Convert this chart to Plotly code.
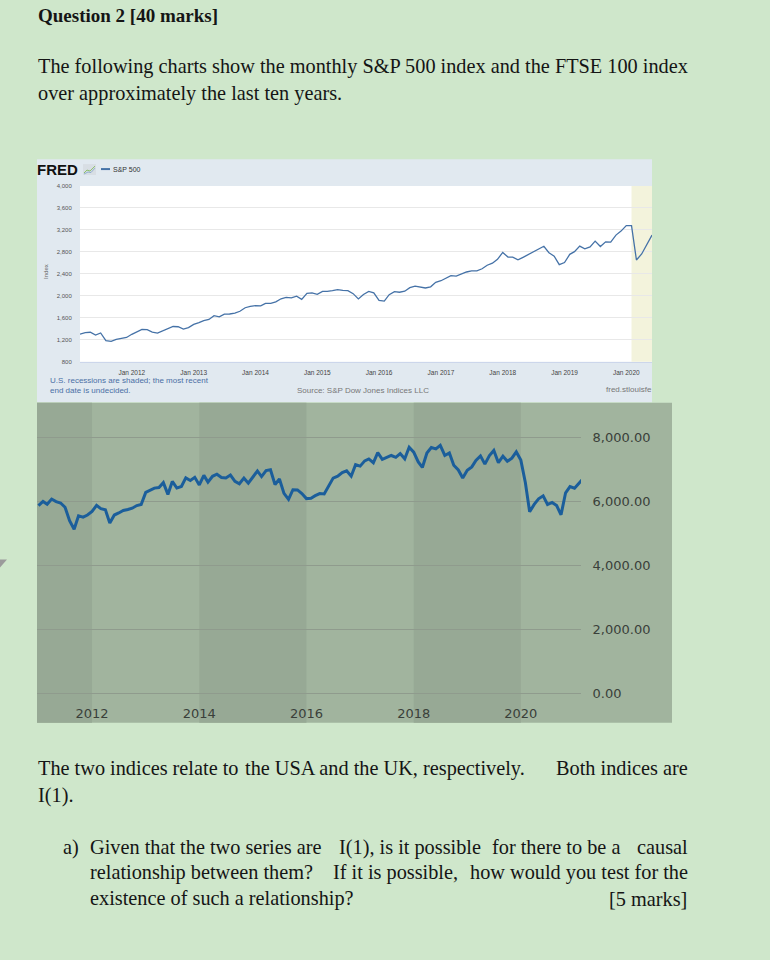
import plotly.graph_objects as go
import pandas as pd

W, H = 770, 960


def px(x):
    return x / W


def py(y):
    return 1 - y / H


# ---------------- data ----------------
# S&P 500, monthly (FRED), Mar 2011 - Jun 2020
sp500_start = "2011-03-01"
sp500 = [
    1304, 1332, 1338, 1287, 1325, 1185, 1174, 1207, 1226, 1243,
    1301, 1352, 1389, 1386, 1341, 1323, 1360, 1403, 1443, 1438, 1395, 1422,
    1480, 1512, 1551, 1571, 1640, 1619, 1669, 1670, 1687, 1720, 1784, 1808,
    1822, 1817, 1864, 1864, 1890, 1947, 1973, 1962, 1993, 1937, 2045, 2054,
    2028, 2082, 2080, 2095, 2112, 2099, 2094, 2040, 1944, 2025, 2081, 2054,
    1919, 1904, 2022, 2076, 2066, 2084, 2149, 2177, 2158, 2143, 2165, 2247,
    2275, 2330, 2367, 2359, 2395, 2434, 2454, 2456, 2493, 2557, 2594, 2664,
    2790, 2705, 2703, 2654, 2701, 2754, 2794, 2858, 2902, 2785, 2723, 2567,
    2607, 2755, 2804, 2904, 2855, 2890, 2996, 2897, 2982, 2978, 3105, 3177,
    3278, 3277, 2652, 2762, 2920, 3105,
]

# FTSE 100, monthly, Jan 2011 - Mar 2021
ftse_start = "2011-01-01"
ftse100 = [
    5863, 5994, 5909, 6070, 5990, 5946, 5815, 5395, 5128, 5544, 5505, 5572,
    5682, 5872, 5768, 5738, 5321, 5571, 5635, 5711, 5742, 5783, 5867, 5898,
    6277, 6361, 6412, 6430, 6583, 6215, 6621, 6413, 6462, 6731, 6651, 6749,
    6510, 6810, 6598, 6780, 6845, 6744, 6730, 6820, 6623, 6546, 6723, 6566,
    6749, 6947, 6773, 6961, 6984, 6521, 6696, 6248, 6062, 6361, 6356, 6242,
    6084, 6097, 6175, 6242, 6231, 6504, 6724, 6782, 6899, 6954, 6784, 7143,
    7099, 7263, 7323, 7204, 7520, 7313, 7372, 7431, 7373, 7493, 7327, 7688,
    7534, 7232, 7057, 7509, 7678, 7637, 7749, 7432, 7510, 7128, 6980, 6728,
    6969, 7075, 7279, 7418, 7162, 7426, 7587, 7207, 7408, 7248, 7347, 7542,
    7286, 6581, 5672, 5901, 6077, 6170, 5898, 5964, 5866, 5577, 6266, 6461,
    6407, 6560, 6714,
]

fred_yticks = [800, 1200, 1600, 2000, 2400, 2800, 3200, 3600, 4000]
fred_xtick_years = [2012, 2013, 2014, 2015, 2016, 2017, 2018, 2019, 2020]
ftse_yticks = [0, 2000, 4000, 6000, 8000]
ftse_xtick_years = [2012, 2014, 2016, 2018, 2020]
recession = ("2020-02-01", "2020-06-01")
ftse_dark_bands = [(2010, 2012), (2014, 2016), (2018, 2020)]

sp_dates = pd.date_range(sp500_start, periods=len(sp500), freq="MS")
ftse_dates = pd.date_range(ftse_start, periods=len(ftse100), freq="MS")

# ---------------- styles ----------------
PAGE = "#cfe7cb"
FRED_BOX = "#e1e9f0"
FRED_LINE = "#4572a7"
FTSE_LIGHT = "#a1b49e"
FTSE_DARK = "#97a995"
FTSE_GRID = "#8f9b8d"
FTSE_LINE = "#1b5e9b"
SERIF = "Liberation Serif"
SANS = "Liberation Sans"
TXT = "#151515"
FS = 20.3

fig = go.Figure()

fig.add_trace(go.Scatter(
    x=sp_dates, y=sp500, mode="lines", xaxis="x", yaxis="y",
    line=dict(color=FRED_LINE, width=1.3), hoverinfo="skip"))

fig.add_trace(go.Scatter(
    x=ftse_dates, y=ftse100, mode="lines", xaxis="x2", yaxis="y2",
    line=dict(color=FTSE_LINE, width=3), hoverinfo="skip"))

shapes = [
    # FRED frame and plot area
    dict(type="rect", xref="paper", yref="paper", x0=px(37), x1=px(652),
         y0=py(404), y1=py(158), fillcolor=FRED_BOX, line_width=0, layer="below"),
    dict(type="rect", xref="paper", yref="paper", x0=px(80), x1=px(652),
         y0=py(363), y1=py(185), fillcolor="white", line_width=0, layer="below"),
    dict(type="rect", xref="x", yref="paper", x0=recession[0], x1=recession[1],
         y0=py(363), y1=py(185), fillcolor="#f3f3dc", line_width=0, layer="below"),
    # FRED icon
    dict(type="rect", xref="paper", yref="paper", x0=px(83), x1=px(96),
         y0=py(174), y1=py(163), fillcolor="#d8dee4", line_width=0, layer="above"),
    dict(type="path", xref="paper", yref="paper",
         path=f"M {px(84)},{py(172)} L {px(87)},{py(169)} L {px(90)},{py(170)} L {px(95)},{py(165)}",
         line=dict(color="#8bbf6a", width=1), layer="above"),
    dict(type="path", xref="paper", yref="paper",
         path=f"M {px(84)},{py(173)} L {px(88)},{py(171)} L {px(91)},{py(171.5)} L {px(95)},{py(167)}",
         line=dict(color="#7fa3c8", width=0.8), layer="above"),
    # legend line
    dict(type="line", xref="paper", yref="paper", x0=px(101), x1=px(110),
         y0=py(168), y1=py(168), line=dict(color=FRED_LINE, width=2)),
    # FTSE frame
    dict(type="rect", xref="paper", yref="paper", x0=px(37), x1=px(672),
         y0=py(728), y1=py(404.5), fillcolor=FTSE_LIGHT, line_width=0, layer="below"),
    # small page marker
    dict(type="path", xref="paper", yref="paper",
         path=f"M {px(0)},{py(563)} L {px(7)},{py(563)} L {px(0)},{py(571)} Z",
         fillcolor="#9b9b9b", line_width=0, layer="above"),
]
for a, b in ftse_dark_bands:
    shapes.append(dict(type="rect", xref="x2", yref="paper",
                       x0=f"{a}-01-01", x1=f"{b}-01-01",
                       y0=py(728), y1=py(404.5), fillcolor=FTSE_DARK,
                       line_width=0, layer="below"))

anns = []


def ann(text, x, y, size, color=TXT, family=SERIF, xanchor="left", textangle=0):
    anns.append(dict(text=text, x=px(x), y=py(y), xref="paper", yref="paper",
                     xanchor=xanchor, yanchor="middle", showarrow=False,
                     textangle=textangle, borderpad=0,
                     font=dict(size=size, color=color, family=family)))


# page text (justified lines are set in pieces)
ann("<b>Question 2 [40 marks]</b>", 37, 13, 19)
ann("The following charts show the monthly S&P 500 index and the FTSE 100 index", 37, 64, FS)
ann("over approximately the last ten years.", 37, 92, FS)
ann("The two indices relate to", 37, 774, FS)
ann("the USA and the UK, respectively.", 244, 774, FS)
ann("Both indices are", 689, 774, FS, xanchor="right")
ann("I(1).", 37, 802, FS)
ann("a)", 62, 854, FS)
ann("Given that the two series are", 89, 854, FS)
ann("I(1), is it possible", 338, 854, FS)
ann("for there to be a", 491, 854, FS)
ann("causal", 689, 854, FS, xanchor="right")
ann("relationship between them?", 89, 880, FS)
ann("If it is possible,", 332, 880, FS)
ann("how would you test for the", 689, 880, FS, xanchor="right")
ann("existence of such a relationship?", 89, 906, FS)
ann("[5 marks]", 688, 906, FS, xanchor="right")

# FRED texts
ann("<b>FRED</b>", 36, 168, 15, color="#111", family=SANS)
ann("S&P 500", 112, 168, 7, color="#333", family=SANS)
ann("Index", 42, 272, 6, color="#666", family=SANS, textangle=-90)
ann("U.S. recessions are shaded; the most recent", 49, 382, 8, color="#4a6fa5", family=SANS)
ann("end date is undecided.", 49, 392, 8, color="#4a6fa5", family=SANS)
ann("Source: S&P Dow Jones Indices LLC", 363, 392, 8, color="#777", family=SANS, xanchor="center")
ann("fred.stlouisfe", 653, 391, 8, color="#777", family=SANS, xanchor="right")

fig.update_layout(
    width=W, height=H, margin=dict(l=0, r=0, t=0, b=0),
    paper_bgcolor=PAGE, plot_bgcolor="rgba(0,0,0,0)",
    showlegend=False, shapes=shapes, annotations=anns,
    xaxis=dict(domain=[px(80), px(652)], anchor="y", type="date",
               range=["2011-03-01", "2020-06-01"],
               tickvals=[f"{y}-01-01" for y in fred_xtick_years],
               ticktext=[f"Jan {y}" for y in fred_xtick_years],
               showgrid=False, zeroline=False, showline=True,
               linecolor="#ccd6eb", linewidth=1,
               ticks="outside", ticklen=4, tickcolor="rgba(0,0,0,0)",
               tickfont=dict(size=6.5, color="#444", family=SANS)),
    yaxis=dict(domain=[py(363), py(185)], anchor="x", range=[800, 4000],
               tickvals=fred_yticks, tickformat=",d",
               showgrid=True, gridcolor="#e8e8e8", gridwidth=1, zeroline=False,
               ticks="outside", ticklen=6, tickcolor="rgba(0,0,0,0)",
               tickfont=dict(size=6, color="#555", family=SANS)),
    xaxis2=dict(domain=[px(37), px(581)], anchor="y2", type="date",
                range=["2010-12-22", "2021-02-14"],
                tickvals=[f"{y}-01-01" for y in ftse_xtick_years],
                tickformat="%Y",
                showgrid=False, zeroline=False, showline=True,
                linecolor=FTSE_GRID, linewidth=1,
                ticks="outside", ticklen=8, tickcolor="rgba(0,0,0,0)",
                tickfont=dict(size=13, color="#3a403a", family="DejaVu Sans")),
    yaxis2=dict(domain=[py(698.3), py(405)], anchor="x2", side="right",
                range=[0, 9060], tickvals=ftse_yticks, tickformat=",.2f",
                showgrid=True, gridcolor=FTSE_GRID, gridwidth=1, zeroline=False,
                ticks="outside", ticklen=8, tickcolor="rgba(0,0,0,0)",
                tickfont=dict(size=13, color="#3a403a", family="DejaVu Sans")),
)

fig.write_html(
    "out.html",
    config={"displayModeBar": False},
    post_script="document.body.style.margin='0';document.body.style.overflow='hidden';",
)
